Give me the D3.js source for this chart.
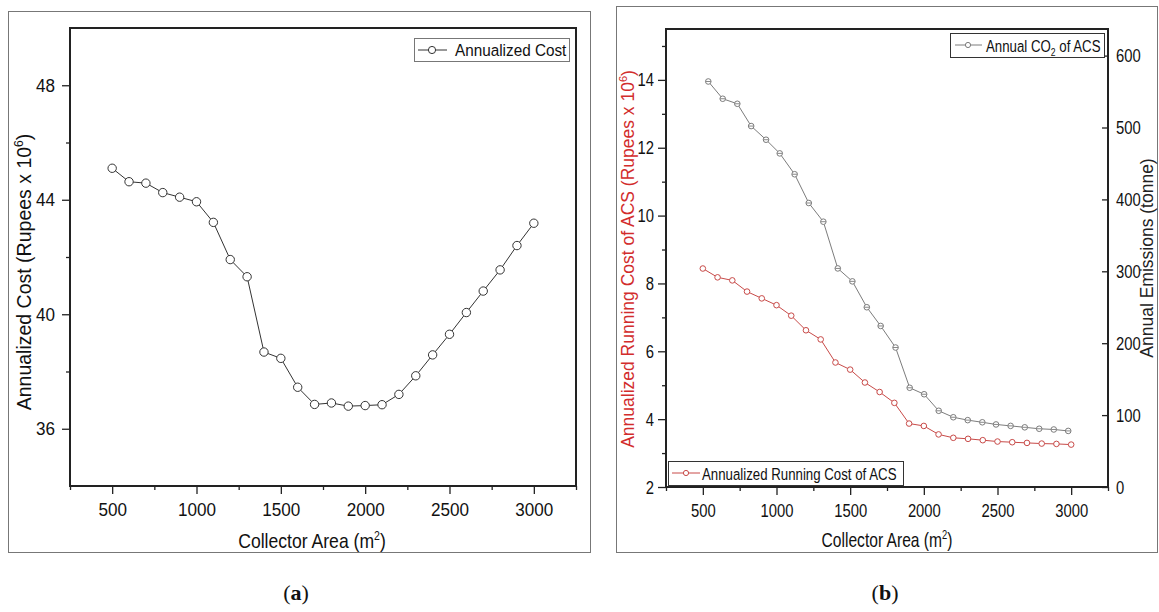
<!DOCTYPE html>
<html lang="en">
<head>
<meta charset="UTF-8">
<script src="https://d3js.org/d3.v7.min.js"></script>
<title>Collector Area</title>
<style>
    body { margin: 0; background: #fff; }
    svg { font-family: 'Liberation Sans', Arial, sans-serif; }
    .tick line { stroke: #222; stroke-width: 1.3; }
    .tick text { fill: #111; }
</style>
</head>
<body>
<svg width="1159" height="612"></svg>
<script>
// ---- data ----
const area = [500, 600, 700, 800, 900, 1000, 1100, 1200, 1300, 1400, 1500, 1600, 1700,
              1800, 1900, 2000, 2100, 2200, 2300, 2400, 2500, 2600, 2700, 2800, 2900, 3000];
const annualCost = [45.10, 44.63, 44.58, 44.25, 44.09, 43.93, 43.21, 41.91, 41.31, 38.68, 38.46, 37.45, 36.85,
                    36.90, 36.79, 36.81, 36.84, 37.20, 37.85, 38.58, 39.30, 40.06, 40.81, 41.55, 42.40, 43.18];
const runningCost = [8.44, 8.18, 8.09, 7.76, 7.56, 7.36, 7.05, 6.62, 6.35, 5.67, 5.46, 5.08, 4.80,
                     4.48, 3.87, 3.80, 3.55, 3.45, 3.42, 3.38, 3.34, 3.32, 3.30, 3.28, 3.27, 3.25];
const co2Area = [537, 635, 734, 828, 929, 1022, 1123, 1219, 1318, 1416, 1515, 1613, 1707,
                 1808, 1904, 2002, 2101, 2200, 2298, 2397, 2490, 2589, 2685, 2783, 2882, 2980];
const co2 = [564, 540, 533, 502, 483, 464, 435, 395, 369, 304, 286, 250, 224,
             194, 138, 129, 106, 97, 93, 90, 87, 85, 83, 81, 80, 78];

const xMajor = [500, 1000, 1500, 2000, 2500, 3000];
const xMinor = [250, 750, 1250, 1750, 2250, 2750, 3250];
const costMajor = [36, 40, 44, 48];
const costMinor = [38, 42, 46];
const runMajor = [2, 4, 6, 8, 10, 12, 14];
const runMinor = [3, 5, 7, 9, 11, 13, 15];
const co2Major = [0, 100, 200, 300, 400, 500, 600];

const svg = d3.select("svg");
const red = "#c84a48";
const fmt = d3.format("d");

// outer frames of the two panels
svg.append("rect").attr("x", 8.5).attr("y", 11.5).attr("width", 582).attr("height", 541)
    .attr("fill", "none").attr("stroke", "#777").attr("stroke-width", 1);
svg.append("rect").attr("x", 616.5).attr("y", 6.5).attr("width", 541).attr("height", 546)
    .attr("fill", "none").attr("stroke", "#777").attr("stroke-width", 1);

// horizontal text squeezed like the original picture
function hText(x, y, sx, anchor, size) {
    return svg.append("g").attr("transform", `translate(${x},${y}) scale(${sx},1)`)
        .append("text").attr("text-anchor", anchor).style("font-size", size + "px").attr("fill", "#111");
}

function bottomAxis(scale, y, sx, fs) {
    svg.append("g").attr("transform", `translate(0,${y})`)
        .call(d3.axisBottom(scale).tickValues(xMinor).tickSize(4).tickSizeOuter(0).tickFormat(""))
        .call(g => g.select(".domain").remove());
    svg.append("g").attr("transform", `translate(0,${y})`)
        .call(d3.axisBottom(scale).tickValues(xMajor).tickSize(8).tickSizeOuter(0).tickFormat(fmt))
        .call(g => g.select(".domain").remove())
        .call(g => g.selectAll(".tick text").attr("y", 30).attr("dy", null)
            .style("font-size", fs + "px").attr("transform", `scale(${sx},1)`));
}

function leftAxis(scale, x, major, minor, sx, gap, fs) {
    svg.append("g").attr("transform", `translate(${x},0)`)
        .call(d3.axisLeft(scale).tickValues(minor).tickSize(4).tickSizeOuter(0).tickFormat(""))
        .call(g => g.select(".domain").remove());
    svg.append("g").attr("transform", `translate(${x},0)`)
        .call(d3.axisLeft(scale).tickValues(major).tickSize(8).tickSizeOuter(0).tickFormat(fmt))
        .call(g => g.select(".domain").remove())
        .call(g => g.selectAll(".tick text").attr("x", -gap / sx)
            .style("font-size", fs + "px").attr("transform", `scale(${sx},1)`));
}

function plotBox(x0, y0, x1, y1) {
    svg.append("rect").attr("x", x0).attr("y", y0).attr("width", x1 - x0).attr("height", y1 - y0)
        .attr("fill", "none").attr("stroke", "#222").attr("stroke-width", 2);
}

// ================= panel (a) =================
const A = {l: 70, r: 576, t: 28, b: 486, sx: 0.9};
const xa = d3.scaleLinear().domain([250, 3250]).range([A.l, A.r]);
const ya = d3.scaleLinear().domain([34, 50]).range([A.b, A.t]);

bottomAxis(xa, A.b, A.sx, 19);
leftAxis(ya, A.l, costMajor, costMinor, A.sx, 15, 19);

svg.append("path").datum(area.map((d, i) => [d, annualCost[i]]))
    .attr("fill", "none").attr("stroke", "#333").attr("stroke-width", 1)
    .attr("d", d3.line().x(d => xa(d[0])).y(d => ya(d[1])));
svg.append("g").selectAll("circle").data(area).join("circle")
    .attr("cx", d => xa(d)).attr("cy", (d, i) => ya(annualCost[i])).attr("r", 4.2)
    .attr("fill", "#fff").attr("stroke", "#333").attr("stroke-width", 1);
plotBox(A.l, A.t, A.r, A.b);

// legend (a)
svg.append("rect").attr("x", 414.5).attr("y", 38.5).attr("width", 155).attr("height", 23)
    .attr("fill", "#fff").attr("stroke", "#777");
svg.append("line").attr("x1", 418).attr("x2", 447).attr("y1", 50).attr("y2", 50).attr("stroke", "#333");
svg.append("circle").attr("cx", 432).attr("cy", 50).attr("r", 3.6).attr("fill", "#fff").attr("stroke", "#333");
hText(455, 56, 0.9, "start", 17).text("Annualized Cost");

// titles (a)
const ta = svg.append("text").attr("transform", "translate(31,272) rotate(-90)")
    .attr("text-anchor", "middle").style("font-size", "19.5px").attr("fill", "#111");
ta.append("tspan").text("Annualized Cost (Rupees x 10");
ta.append("tspan").attr("dy", -8).style("font-size", "12px").text("6");
ta.append("tspan").attr("dy", 8).text(")");

const xta = hText(312, 548, 0.88, "middle", 20);
xta.append("tspan").text("Collector Area (m");
xta.append("tspan").attr("dy", -8).style("font-size", "12px").text("2");
xta.append("tspan").attr("dy", 8).text(")");

// ================= panel (b) =================
const B = {l: 666, r: 1108, t: 29, b: 487, sx: 0.78};
const xb = d3.scaleLinear().domain([250, 3250]).range([B.l, B.r]);
const yb = d3.scaleLinear().domain([2, 15.5]).range([B.b, B.t]);
const yc = d3.scaleLinear().domain([0, 637]).range([B.b, B.t]);

bottomAxis(xb, B.b, B.sx, 19);
leftAxis(yb, B.l, runMajor, runMinor, B.sx, 12, 19);
svg.append("g").attr("transform", `translate(${B.r},0)`)
    .call(d3.axisRight(yc).tickValues(co2Major).tickSize(-6).tickSizeOuter(0).tickFormat(fmt))
    .call(g => g.select(".domain").remove())
    .call(g => g.selectAll(".tick text").attr("x", 8 / B.sx)
        .style("font-size", "19px").attr("transform", `scale(${B.sx},1)`));

// CO2 series (grey)
const grey = "#7c7c7c";
svg.append("path").datum(co2Area.map((d, i) => [d, co2[i]]))
    .attr("fill", "none").attr("stroke", grey).attr("stroke-width", 1)
    .attr("d", d3.line().x(d => xb(d[0])).y(d => yc(d[1])));
const gm = svg.append("g").selectAll("g").data(co2Area).join("g")
    .attr("transform", (d, i) => `translate(${xb(d)},${yc(co2[i])})`);
gm.append("circle").attr("r", 2.8).attr("fill", "#fff").attr("stroke", grey).attr("stroke-width", 1);
gm.append("line").attr("x1", -2.6).attr("x2", 2.6).attr("stroke", grey).attr("stroke-width", 0.9);

// running cost series (red)
svg.append("path").datum(area.map((d, i) => [d, runningCost[i]]))
    .attr("fill", "none").attr("stroke", red).attr("stroke-width", 1)
    .attr("d", d3.line().x(d => xb(d[0])).y(d => yb(d[1])));
svg.append("g").selectAll("circle").data(area).join("circle")
    .attr("cx", d => xb(d)).attr("cy", (d, i) => yb(runningCost[i])).attr("r", 2.8)
    .attr("fill", "#fff").attr("stroke", red).attr("stroke-width", 1);
plotBox(B.l, B.t, B.r, B.b);

// legends (b)
svg.append("rect").attr("x", 950.5).attr("y", 33.5).attr("width", 154).attr("height", 24)
    .attr("fill", "#fff").attr("stroke", "#333");
svg.append("line").attr("x1", 955).attr("x2", 982).attr("y1", 45).attr("y2", 45).attr("stroke", grey);
svg.append("circle").attr("cx", 968).attr("cy", 45).attr("r", 2.6).attr("fill", "#fff").attr("stroke", grey);
const lg = hText(986, 52, 0.78, "start", 17);
lg.append("tspan").text("Annual CO");
lg.append("tspan").attr("dy", 4).style("font-size", "11px").text("2");
lg.append("tspan").attr("dy", -4).text(" of ACS");

svg.append("rect").attr("x", 668.5).attr("y", 461.5).attr("width", 235).attr("height", 24)
    .attr("fill", "#fff").attr("stroke", "#333");
svg.append("line").attr("x1", 672).attr("x2", 700).attr("y1", 473).attr("y2", 473).attr("stroke", red);
svg.append("circle").attr("cx", 686).attr("cy", 473).attr("r", 2.6).attr("fill", "#fff").attr("stroke", red);
hText(702, 480, 0.78, "start", 17).text("Annualized Running Cost of ACS");

// titles (b)
const tb = svg.append("text").attr("transform", "translate(634,259) rotate(-90)")
    .attr("text-anchor", "middle").style("font-size", "17.5px").attr("fill", "#d22c2c");
tb.append("tspan").text("Annualized Running Cost of ACS (Rupees x 10");
tb.append("tspan").attr("dy", -7).style("font-size", "11px").text("6");
tb.append("tspan").attr("dy", 7).text(")");

svg.append("text").attr("transform", "translate(1153,258) rotate(-90)")
    .attr("text-anchor", "middle").style("font-size", "17.5px").attr("fill", "#222")
    .text("Annual Emissions (tonne)");

const xtb = hText(887, 547, 0.78, "middle", 20);
xtb.append("tspan").text("Collector Area (m");
xtb.append("tspan").attr("dy", -8).style("font-size", "12px").text("2");
xtb.append("tspan").attr("dy", 8).text(")");

// panel captions
const capA = svg.append("text").attr("x", 296).attr("y", 600).attr("text-anchor", "middle")
    .style("font-family", "'Liberation Serif', serif").style("font-size", "22px").attr("fill", "#111");
capA.append("tspan").text("(");
capA.append("tspan").style("font-weight", "bold").text("a");
capA.append("tspan").text(")");
const capB = svg.append("text").attr("x", 885).attr("y", 600).attr("text-anchor", "middle")
    .style("font-family", "'Liberation Serif', serif").style("font-size", "22px").attr("fill", "#111");
capB.append("tspan").text("(");
capB.append("tspan").style("font-weight", "bold").text("b");
capB.append("tspan").text(")");
</script>
</body>
</html>
